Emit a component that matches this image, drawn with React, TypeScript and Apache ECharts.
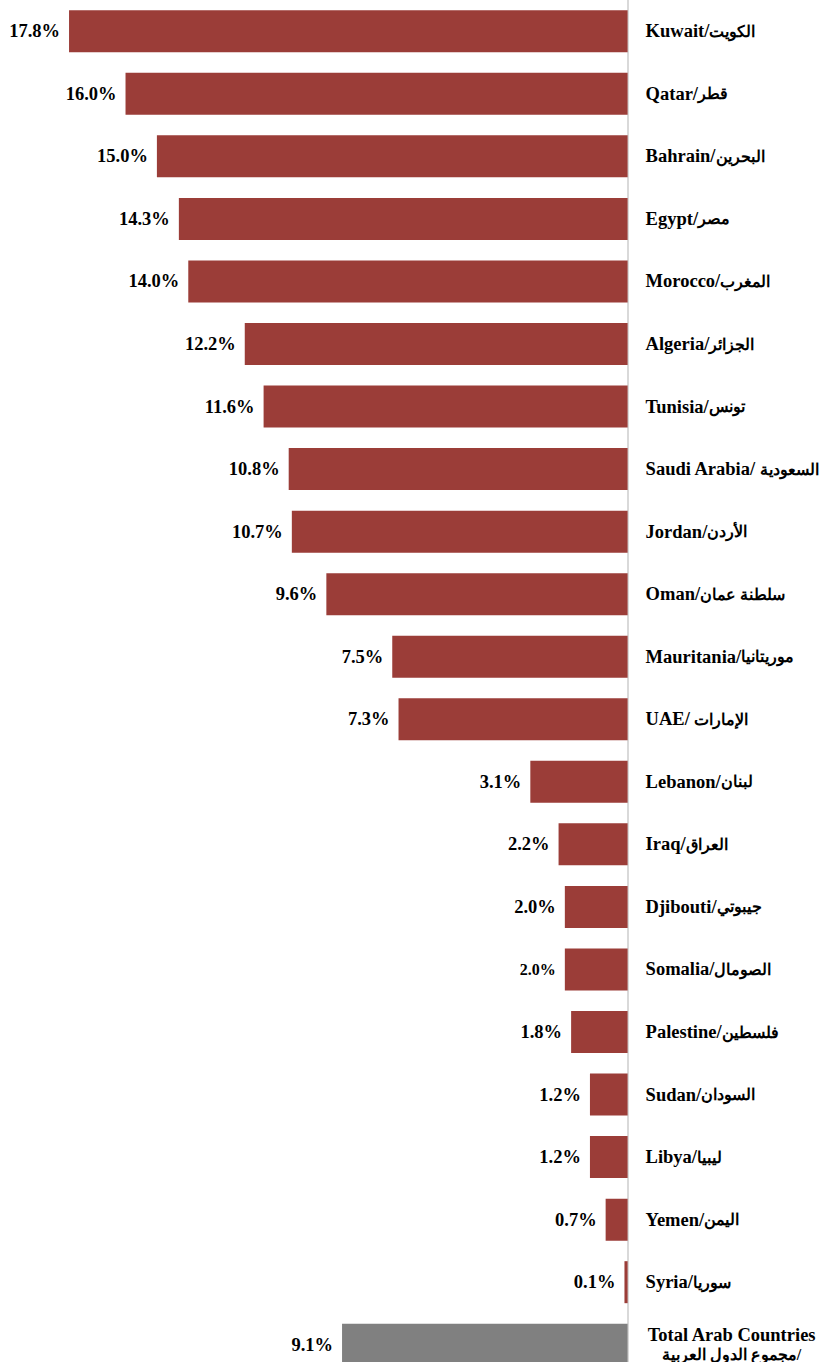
import React, { useEffect, useRef } from "react";
import * as echarts from "echarts";

const categories = [
  "Kuwait/الكويت",
  "Qatar/قطر",
  "Bahrain/البحرين",
  "Egypt/مصر",
  "Morocco/المغرب",
  "Algeria/الجزائر",
  "Tunisia/تونس",
  "Saudi Arabia/ السعودية",
  "Jordan/الأردن",
  "Oman/سلطنة عمان",
  "Mauritania/موريتانيا",
  "UAE/ الإمارات",
  "Lebanon/لبنان",
  "Iraq/العراق",
  "Djibouti/جيبوتي",
  "Somalia/الصومال",
  "Palestine/فلسطين",
  "Sudan/السودان",
  "Libya/ليبيا",
  "Yemen/اليمن",
  "Syria/سوريا",
  "Total Arab Countries",
];

const values = [17.8, 16.0, 15.0, 14.3, 14.0, 12.2, 11.6, 10.8, 10.7, 9.6, 7.5, 7.3, 3.1, 2.2, 2.0, 2.0, 1.8, 1.2, 1.2, 0.7, 0.1, 9.1];

const totalArabic = "مجموع الدول العربية/";

const FONT = "'Liberation Serif', 'Times New Roman', serif";
const RED = "#9b3d38";
const GRAY = "#808080";
const W = 822;
const H = 1362;
const CH = 1376;

export default function App() {
  const ref = useRef<HTMLDivElement>(null);
  useEffect(() => {
    if (!ref.current) return;
    document.body.style.margin = "0";
    document.body.style.overflow = "hidden";
    const chart = echarts.init(ref.current, undefined, { renderer: "svg", width: W, height: CH });
    const last = categories.length - 1;
    chart.setOption({
      animation: false,
      grid: { left: 0, right: 190, top: -1.29, bottom: 0, containLabel: false },
      xAxis: {
        type: "value",
        inverse: true,
        min: 0,
        max: 20,
        show: false,
      },
      yAxis: {
        type: "category",
        data: categories,
        inverse: true,
        position: "right",
        axisLine: { show: true, lineStyle: { color: "#d9d9d9", width: 2 } },
        axisTick: { show: false },
        splitLine: { show: false },
        axisLabel: {
          margin: 18,
          align: "left",
          color: "#000",
          fontFamily: FONT,
          fontWeight: "bold",
          fontSize: 18.5,
          formatter: (v: string) => {
            if (v === categories[last]) return `{t|${v}}\n{u|${totalArabic}}`;
            const k = v.indexOf("/");
            return `{e|${v.slice(0, k + 1)}}{a|${v.slice(k + 1)}}`;
          },
          rich: {
            e: {
              fontFamily: FONT,
              fontWeight: "bold",
              fontSize: 18.5,
              color: "#000",
              verticalAlign: "middle",
            },
            a: {
              fontWeight: "bold",
              fontSize: 15.5,
              color: "#000",
              verticalAlign: "middle",
            },
            t: {
              width: 172,
              align: "center",
              fontFamily: FONT,
              fontWeight: "bold",
              fontSize: 18.5,
              lineHeight: 19,
              color: "#000",
            },
            u: {
              width: 172,
              align: "center",
              fontWeight: "bold",
              fontSize: 16,
              lineHeight: 19,
              color: "#000",
            },
          },
        },
      },
      series: [
        {
          type: "bar",
          barWidth: 42,
          data: values.map((v, i) => ({
            value: v,
            itemStyle: { color: i === last ? GRAY : RED },
            label: i === 15 ? { fontSize: 16 } : undefined,
          })),
          label: {
            show: true,
            position: "left",
            distance: 9,
            color: "#000",
            fontFamily: FONT,
            fontWeight: "bold",
            fontSize: 18.5,
            formatter: (p: any) => p.value.toFixed(1) + "%",
          },
        },
      ],
    });
    return () => chart.dispose();
  }, []);
  return (
    <div
      style={{
        position: "absolute",
        left: 0,
        top: 0,
        width: W,
        height: H,
        overflow: "hidden",
      }}
    >
      <div ref={ref} style={{ width: W, height: CH }} />
    </div>
  );
}
